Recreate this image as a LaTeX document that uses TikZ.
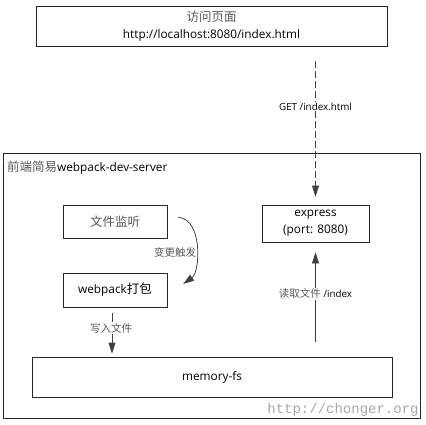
\documentclass[tikz,border=0pt]{standalone}
\usepackage{fontspec}
\setmainfont{Open Sans}
\newfontfamily\cjk{Noto Sans CJK SC}
\newfontfamily\wmfont{Liberation Mono}
\usetikzlibrary{arrows.meta}
\newcommand{\zhbig}[1]{{\cjk\fontsize{12.5}{15}\selectfont\color{black!65}#1}}
\newcommand{\zhsmall}[1]{{\cjk\fontsize{10.5}{12}\selectfont\color{black!65}#1}}

\begin{document}
\begin{tikzpicture}[x=1pt,y=-1pt,draw=black!70,>={Triangle[length=11pt,width=7pt]}]
    \tikzstyle{box}=[draw=black!85,line width=0.8pt,inner sep=0pt,align=center,font=\fontsize{11.8}{17}\selectfont]
    \tikzstyle{flow}=[->,draw=black!75,line width=0.8pt]
    \tikzstyle{annot}=[font=\fontsize{9.8}{11}\selectfont,inner sep=1pt]

    \useasboundingbox (0,0) rectangle (426,424);

    % Draw the page and the server frame
    \node[box,minimum width=351pt,minimum height=40pt] (page) at (211.5,26) {\zhbig{访问页面}\\http://localhost:8080/index.html};
    \node[box,minimum width=417pt,minimum height=265pt] (server) at (211.5,285.5) {};
    \node[anchor=west,font=\fontsize{11.8}{13}\selectfont,inner sep=0pt] (title) at (7,168) {\zhbig{前端简易}webpack-dev-server};

    % Draw the inner nodes
    \node[box,minimum width=104pt,minimum height=33pt] (watch) at (115,221.5) {\zhbig{文件监听}};
    \node[box,minimum width=104pt,minimum height=34pt] (pack) at (115,290) {webpack{\cjk\fontsize{12.5}{15}\selectfont 打包}};
    \node[box,minimum width=107pt,minimum height=37pt] (express) at (315.5,223.5) {express\\(port: 8080)};
    \node[box,minimum width=360pt,minimum height=40pt] (memfs) at (212,377) {memory-fs};

    % Connect the nodes
    \draw[flow,dash pattern=on 7pt off 3pt,shorten <=15pt,shorten >=8pt] (page.south -| express.north) -- (express.north)
        node[annot,fill=white,pos=0.38] {GET /index.html};
    \draw[flow,shorten <=3pt,shorten >=7pt] ([xshift=8pt,yshift=4.5pt]watch.east) to[out=-5,in=35,looseness=1.0] ([xshift=10pt,yshift=2pt]pack.east);
    \node[annot] (change) at (175,252) {\zhsmall{变更触发}};
    \draw[flow,shorten <=6pt,shorten >=3pt] ([xshift=-3pt]pack.south) -- ([xshift=-3pt]pack.south |- memfs.north)
        node[annot,fill=white,pos=0.42,xshift=-1pt] {\zhsmall{写入文件}};
    \draw[flow,shorten <=15pt,shorten >=10pt] (memfs.north -| express.south) -- (express.south)
        node[annot,fill=white,pos=0.55] {\zhsmall{读取文件} /index};

    % Annotate the picture
    \node[text=black!35,font=\wmfont\fontsize{14}{16}\selectfont,inner sep=0pt] (mark) at (343,410) {http://chonger.org};
\end{tikzpicture}
\end{document}
